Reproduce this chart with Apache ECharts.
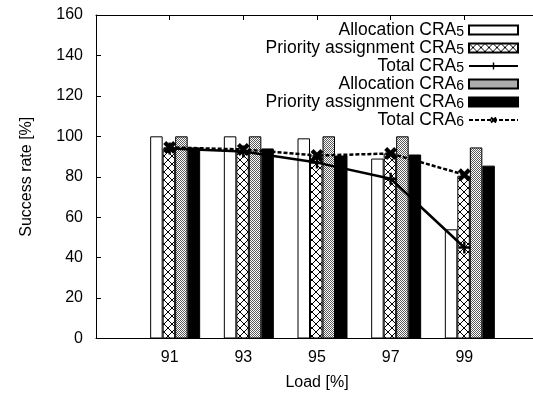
<!DOCTYPE html>
<html>
<head>
<meta charset="utf-8">
<script src="https://cdn.jsdelivr.net/npm/echarts@6/dist/echarts.min.js"></script>
<style>
html,body{margin:0;padding:0;background:#fff;}
#c{width:533px;height:395px;}
</style>
</head>
<body>
<div id="c"></div>
<script>
// ---- data ----
var loads = [91, 93, 95, 97, 99];
var xTickLabels = ['91', '93', '95', '97', '99'];
var allocCRA5 = [100, 100, 99, 89, 54];
var prioCRA5 = [94, 93, 90.5, 91.5, 80.5];
var totalCRA5 = [94, 92.5, 87, 79, 45];
var allocCRA6 = [100, 100, 100, 100, 94.5];
var prioCRA6 = [94.5, 94, 90.5, 91, 85.5];
var totalCRA6 = [94.5, 93.5, 90.5, 91.5, 81];

var names = ['Allocation CRA5', 'Priority assignment CRA5', 'Total CRA5',
             'Allocation CRA6', 'Priority assignment CRA6', 'Total CRA6'];
var isBar = [true, true, false, true, true, false];

function pairs(vals) { return loads.map(function (x, i) { return [x, vals[i]]; }); }

// ---- patterns ----
function crossPattern() {
  var c = document.createElement('canvas'); c.width = 8; c.height = 8;
  var g = c.getContext('2d');
  g.fillStyle = '#fff'; g.fillRect(0, 0, 8, 8);
  g.fillStyle = '#000';
  for (var i = 0; i < 8; i++) { g.fillRect(i, i, 1, 1); g.fillRect(7 - i, i, 1, 1); }
  return c;
}
function grayPattern() {
  var c = document.createElement('canvas'); c.width = 2; c.height = 2;
  var g = c.getContext('2d');
  g.fillStyle = '#fff'; g.fillRect(0, 0, 2, 2);
  g.fillStyle = '#5a5a5a';
  g.fillRect(0, 0, 1, 1); g.fillRect(1, 1, 1, 1);
  return c;
}
var crossFill = { image: crossPattern(), repeat: 'repeat' };
var grayFill = { image: grayPattern(), repeat: 'repeat' };

var FONT = 'Liberation Sans';
var plusPath = 'path://M4,0H6V4H10V6H6V10H4V6H0V4H4Z';
var xPath = 'path://M3.5,0H6.5V3.5H10V6.5H6.5V10H3.5V6.5H0V3.5H3.5Z';

var chart = echarts.init(document.getElementById('c'), null, { renderer: 'canvas' });

var barW = 12.5;
function barSeries(name, vals, color) {
  return {
    name: name, type: 'bar', xAxisIndex: 2, yAxisIndex: 2,
    data: pairs(vals), barWidth: barW, barGap: '0%', z: 2,
    itemStyle: { color: color, borderColor: '#000', borderWidth: 1 },
    emphasis: { disabled: true }
  };
}

var axisLineStyle = { color: '#000', width: 1 };
var option = {
  animation: false,
  textStyle: { fontFamily: FONT },
  grid: [
    { left: 96, width: 442, top: 15, bottom: 56.5, show: false, outerBoundsMode: 'none', containLabel: false },
    { left: 101.5, width: 442, top: 15, bottom: 56.5, show: false, outerBoundsMode: 'none', containLabel: false }
  ],
  legend: {
    orient: 'vertical', align: 'right', right: 14, top: 21, padding: 0,
    itemWidth: 49, itemHeight: 9, itemGap: 0,
    data: names.map(function (n, i) { return isBar[i] ? { name: n, icon: 'rect' } : { name: n }; }),
    selectedMode: false,
    textStyle: {
      fontFamily: FONT, fontSize: 17.5, color: '#000', lineHeight: 18,
      rich: {
        m: { fontFamily: FONT, fontSize: 17.5, color: '#000', lineHeight: 18 },
        s: { fontFamily: FONT, fontSize: 14, color: '#000', lineHeight: 2, verticalAlign: 'bottom' }
      }
    },
    formatter: function (n) { return '{m|' + n.slice(0, -1) + '}{s|' + n.slice(-1) + '}'; }
  },
  xAxis: [
    {
      gridIndex: 0, type: 'value', min: 89, max: 101, interval: 2, position: 'bottom',
      name: 'Load [%]', nameLocation: 'middle', nameGap: 36,
      nameTextStyle: { fontFamily: FONT, fontSize: 16, color: '#000' },
      axisLine: { show: true, onZero: false, lineStyle: axisLineStyle },
      axisTick: { show: true, inside: true, length: 5, lineStyle: axisLineStyle },
      axisLabel: {
        fontFamily: FONT, fontSize: 16, color: '#000', margin: 11,
        formatter: function (v) { var i = loads.indexOf(v); return i >= 0 ? xTickLabels[i] : ''; }
      },
      splitLine: { show: false }
    },
    {
      gridIndex: 0, type: 'value', min: 89, max: 101, interval: 2, position: 'top',
      axisLine: { show: true, onZero: false, lineStyle: axisLineStyle },
      axisTick: { show: true, inside: true, length: 5, lineStyle: axisLineStyle },
      axisLabel: { show: false }, splitLine: { show: false }
    },
    {
      gridIndex: 1, type: 'value', min: 89, max: 101, interval: 2, show: false
    }
  ],
  yAxis: [
    {
      gridIndex: 0, type: 'value', min: 0, max: 160, interval: 20, position: 'left',
      name: 'Success rate [%]', nameLocation: 'middle', nameGap: 61, nameRotate: 90,
      nameTextStyle: { fontFamily: FONT, fontSize: 16, color: '#000' },
      axisLine: { show: true, onZero: false, lineStyle: axisLineStyle },
      axisTick: { show: true, inside: true, length: 5, lineStyle: axisLineStyle },
      axisLabel: { fontFamily: FONT, fontSize: 16, color: '#000', margin: 13 },
      splitLine: { show: false }
    },
    {
      gridIndex: 0, type: 'value', min: 0, max: 160, interval: 20, position: 'right',
      axisLine: { show: true, onZero: false, lineStyle: axisLineStyle },
      axisTick: { show: true, inside: true, length: 5, lineStyle: axisLineStyle },
      axisLabel: { show: false }, splitLine: { show: false }
    },
    {
      gridIndex: 1, type: 'value', min: 0, max: 160, interval: 20, show: false
    }
  ],
  series: [
    barSeries(names[0], allocCRA5, '#fff'),
    barSeries(names[1], prioCRA5, crossFill),
    {
      name: names[2], type: 'line', xAxisIndex: 0, yAxisIndex: 0, z: 5,
      data: pairs(totalCRA5),
      symbol: plusPath, symbolSize: 12, showAllSymbol: true,
      itemStyle: { color: '#000', borderWidth: 0 },
      lineStyle: { color: '#000', width: 2.5, type: 'solid' },
      emphasis: { disabled: true }
    },
    barSeries(names[3], allocCRA6, grayFill),
    barSeries(names[4], prioCRA6, '#000'),
    {
      name: names[5], type: 'line', xAxisIndex: 0, yAxisIndex: 0, z: 6,
      data: pairs(totalCRA6),
      symbol: xPath, symbolSize: 14, symbolRotate: 45, showAllSymbol: true,
      itemStyle: { color: '#000', borderWidth: 0 },
      lineStyle: { color: '#000', width: 2.5, type: [4, 2] },
      emphasis: { disabled: true }
    }
  ]
};
chart.setOption(option);
</script>
</body>
</html>
